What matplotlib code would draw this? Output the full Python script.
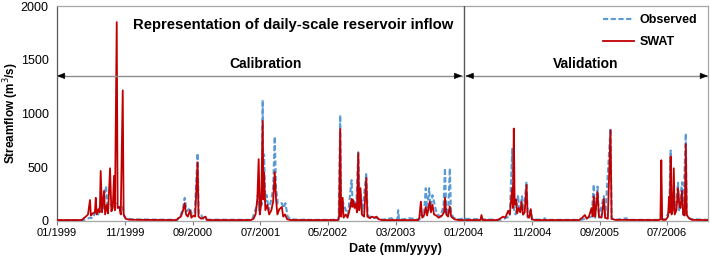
import matplotlib
matplotlib.use("Agg")
import matplotlib.pyplot as plt
import matplotlib.dates as mdates
import pandas as pd

plt.rcParams["font.family"] = ["Liberation Sans", "DejaVu Sans"]

# values, knots of the daily hydrograph (m3/s)
swat_dates = [
    "1999-01-01", "1999-04-23", "1999-04-28", "1999-05-10", "1999-05-20", "1999-05-29", "1999-06-02",
    "1999-06-10", "1999-06-20", "1999-06-24", "1999-06-28", "1999-07-06", "1999-07-12", "1999-07-16",
    "1999-07-22", "1999-07-31", "1999-08-05", "1999-08-12", "1999-08-18", "1999-08-27", "1999-09-02",
    "1999-09-08", "1999-09-14", "1999-09-18", "1999-09-26", "1999-09-30", "1999-10-08", "1999-10-14",
    "1999-10-23", "1999-10-27", "1999-11-05", "1999-11-20", "2000-01-01", "2000-06-20", "2000-06-28",
    "2000-07-10", "2000-07-20", "2000-07-27", "2000-08-02", "2000-08-10", "2000-08-20", "2000-08-26",
    "2000-09-05", "2000-09-12", "2000-09-23", "2000-09-27", "2000-10-10", "2000-10-29", "2000-11-02",
    "2000-11-15", "2001-05-20", "2001-06-01", "2001-06-10", "2001-06-18", "2001-06-24", "2001-06-29",
    "2001-07-05", "2001-07-12", "2001-07-15", "2001-07-18", "2001-07-24", "2001-08-02", "2001-08-10",
    "2001-08-20", "2001-08-28", "2001-09-04", "2001-09-10", "2001-09-16", "2001-09-25", "2001-10-06",
    "2001-10-12", "2001-10-20", "2001-10-30", "2001-11-15", "2002-06-15", "2002-06-20", "2002-06-25",
    "2002-06-29", "2002-07-06", "2002-07-10", "2002-07-20", "2002-07-28", "2002-08-08", "2002-08-15",
    "2002-08-18", "2002-08-22", "2002-08-28", "2002-09-03", "2002-09-08", "2002-09-14", "2002-09-18",
    "2002-09-24", "2002-09-30", "2002-10-10", "2002-10-20", "2002-10-25", "2002-11-05", "2002-11-15",
    "2002-11-25", "2002-12-05", "2002-12-15", "2003-01-01", "2003-06-10", "2003-06-15", "2003-06-22",
    "2003-06-28", "2003-07-08", "2003-07-14", "2003-07-20", "2003-08-01", "2003-08-06", "2003-08-13",
    "2003-08-20", "2003-08-30", "2003-09-10", "2003-09-25", "2003-10-04", "2003-10-08", "2003-10-14",
    "2003-10-22", "2003-10-30", "2003-11-05", "2003-11-20", "2003-12-10", "2004-03-15", "2004-03-20",
    "2004-03-25", "2004-06-01", "2004-06-10", "2004-06-25", "2004-07-05", "2004-07-18", "2004-07-25",
    "2004-08-05", "2004-08-08", "2004-08-12", "2004-08-16", "2004-08-22", "2004-08-27", "2004-09-03",
    "2004-09-10", "2004-09-16", "2004-09-22", "2004-09-30", "2004-10-08", "2004-10-13", "2004-10-20",
    "2004-10-27", "2004-11-01", "2004-11-15", "2005-06-01", "2005-06-15", "2005-06-27", "2005-07-05",
    "2005-07-15", "2005-07-27", "2005-08-01", "2005-08-06", "2005-08-12", "2005-08-23", "2005-08-29",
    "2005-09-10", "2005-09-20", "2005-09-26", "2005-10-08", "2005-10-20", "2005-10-25", "2005-11-10",
    "2006-05-25", "2006-06-01", "2006-06-05", "2006-06-09", "2006-06-25", "2006-07-05", "2006-07-10",
    "2006-07-13", "2006-07-17", "2006-07-21", "2006-07-26", "2006-07-31", "2006-08-04", "2006-08-12",
    "2006-08-19", "2006-08-24", "2006-08-30", "2006-09-06", "2006-09-11", "2006-09-18", "2006-09-23",
    "2006-09-27", "2006-10-05", "2006-10-20", "2006-12-31",
]
swat_flow = [
    8, 8, 20, 40, 60, 195, 50,
    70, 80, 215, 60, 110, 80, 465,
    80, 280, 60, 150, 70, 490, 90,
    120, 420, 100, 1850, 120, 130, 60,
    1215, 60, 20, 12, 10, 8, 25,
    40, 100, 165, 60, 40, 100, 30,
    50, 40, 545, 40, 20, 40, 10,
    8, 8, 20, 60, 200, 575, 60,
    150, 930, 200, 450, 100, 150, 60,
    100, 180, 455, 200, 60, 110, 130,
    40, 60, 15, 8, 8, 40, 855,
    40, 215, 30, 60, 30, 120, 205,
    130, 195, 120, 160, 80, 630, 100,
    305, 60, 40, 400, 40, 25, 40,
    30, 40, 15, 8, 8, 30, 180,
    30, 60, 130, 50, 180, 80, 150,
    60, 50, 30, 50, 80, 215, 60,
    40, 135, 40, 15, 8, 8, 55,
    8, 8, 20, 40, 30, 95, 60,
    305, 120, 860, 150, 200, 70, 120,
    80, 180, 60, 80, 335, 40, 30,
    110, 15, 8, 8, 30, 55, 20,
    40, 120, 40, 230, 40, 270, 40,
    30, 205, 30, 20, 845, 20, 10,
    8, 15, 565, 10, 10, 40, 225,
    80, 600, 60, 100, 490, 60, 100,
    305, 160, 120, 280, 60, 50, 715,
    60, 30, 10, 8,
]

obs_dates = [
    "1999-01-01", "1999-05-01", "1999-05-29", "1999-06-10", "1999-06-24", "1999-07-05", "1999-07-16",
    "1999-07-25", "1999-08-09", "1999-08-15", "1999-08-27", "1999-09-05", "1999-09-14", "1999-09-26",
    "1999-10-05", "1999-10-15", "1999-10-23", "1999-10-30", "1999-11-10", "1999-12-01", "2000-06-25",
    "2000-07-10", "2000-07-20", "2000-07-27", "2000-08-05", "2000-08-20", "2000-08-28", "2000-09-10",
    "2000-09-23", "2000-09-28", "2000-10-10", "2000-10-20", "2000-11-10", "2001-05-25", "2001-06-05",
    "2001-06-15", "2001-06-20", "2001-06-26", "2001-07-02", "2001-07-08", "2001-07-12", "2001-07-15",
    "2001-07-18", "2001-07-24", "2001-07-30", "2001-08-08", "2001-08-20", "2001-08-28", "2001-09-04",
    "2001-09-10", "2001-09-18", "2001-09-28", "2001-10-06", "2001-10-15", "2001-10-22", "2001-11-01",
    "2001-11-15", "2002-01-12", "2002-01-17", "2002-01-22", "2002-06-18", "2002-06-25", "2002-06-29",
    "2002-07-06", "2002-07-20", "2002-07-30", "2002-08-15", "2002-08-20", "2002-08-28", "2002-09-05",
    "2002-09-14", "2002-09-20", "2002-09-24", "2002-10-02", "2002-10-20", "2002-10-26", "2002-11-15",
    "2002-12-10", "2002-12-25", "2003-02-10", "2003-02-20", "2003-03-08", "2003-03-12", "2003-03-16",
    "2003-05-04", "2003-06-15", "2003-06-22", "2003-07-05", "2003-07-14", "2003-07-20", "2003-07-29",
    "2003-08-05", "2003-08-13", "2003-08-20", "2003-08-28", "2003-09-08", "2003-09-20", "2003-10-02",
    "2003-10-08", "2003-10-14", "2003-10-22", "2003-10-30", "2003-11-04", "2003-11-15", "2003-12-10",
    "2003-12-25", "2004-06-15", "2004-07-10", "2004-07-25", "2004-08-05", "2004-08-09", "2004-08-14",
    "2004-08-20", "2004-08-31", "2004-09-06", "2004-09-18", "2004-09-24", "2004-10-08", "2004-10-14",
    "2004-10-27", "2004-11-03", "2004-12-24", "2004-12-29", "2005-01-03", "2005-06-10", "2005-07-27",
    "2005-08-06", "2005-08-12", "2005-08-23", "2005-08-29", "2005-09-20", "2005-09-26", "2005-10-20",
    "2005-10-25", "2005-11-15", "2005-12-31", "2006-01-05", "2006-06-01", "2006-06-05", "2006-06-20",
    "2006-07-10", "2006-07-17", "2006-07-21", "2006-07-31", "2006-08-06", "2006-08-19", "2006-08-24",
    "2006-09-06", "2006-09-11", "2006-09-23", "2006-09-27", "2006-10-10", "2006-11-01", "2006-12-31",
]
obs_flow = [
    8, 8, 30, 25, 90, 60, 170,
    100, 325, 150, 170, 130, 180, 150,
    130, 100, 130, 40, 25, 15, 10,
    60, 120, 215, 90, 120, 60, 80,
    630, 60, 50, 20, 12, 10, 75,
    140, 240, 100, 240, 150, 1125, 250,
    620, 180, 240, 100, 200, 300, 785,
    300, 160, 160, 165, 120, 165, 40,
    15, 10, 20, 10, 10, 985, 60,
    180, 100, 60, 380, 150, 180, 130,
    640, 120, 250, 80, 445, 50, 30,
    25, 10, 25, 10, 10, 100, 10,
    25, 10, 60, 40, 305, 80, 305,
    100, 240, 180, 100, 55, 40, 150,
    490, 80, 60, 490, 80, 30, 15,
    20, 10, 30, 40, 670, 200, 100,
    60, 240, 80, 230, 60, 365, 30,
    100, 15, 10, 25, 10, 10, 40,
    340, 30, 320, 30, 230, 20, 860,
    20, 10, 25, 10, 10, 20, 15,
    80, 655, 60, 150, 80, 355, 100,
    360, 60, 815, 50, 20, 15, 10,
]

x_ticks = ["1999-01-01", "1999-11-01", "2000-09-01", "2001-07-01", "2002-05-01",
           "2003-03-01", "2004-01-01", "2004-11-01", "2005-09-01", "2006-07-01"]
period_split = "2004-01-01"
period_end = "2006-12-31"

swat_t = pd.to_datetime(swat_dates)
obs_t = pd.to_datetime(obs_dates)
split_t = pd.Timestamp(period_split)
start_t = pd.Timestamp(x_ticks[0])
end_t = pd.Timestamp(period_end)

fig = plt.figure(figsize=(7.1, 2.63), dpi=100)
ax = fig.add_axes([0.0803, 0.16, 0.9167, 0.817])

ax.plot(obs_t, obs_flow, color="#5B9BD5", lw=1.5, ls=(0, (2.5, 1.2)), label="Observed", zorder=2)
ax.plot(swat_t, swat_flow, color="#C00000", lw=1.3, label="SWAT", zorder=3)

ax.set_xlim(start_t, end_t)
ax.set_ylim(0, 2000)
ax.set_yticks([0, 500, 1000, 1500, 2000])
ax.set_xticks(pd.to_datetime(x_ticks))
ax.xaxis.set_major_formatter(mdates.DateFormatter("%m/%Y"))
ax.tick_params(axis="y", length=0, labelsize=9, pad=6)
ax.tick_params(axis="x", length=3, color="#808080", labelsize=8, pad=2)

for side in ["top", "right", "bottom"]:
    ax.spines[side].set_color("#a6a6a6")
ax.spines["left"].set_color("#595959")
for sp in ax.spines.values():
    sp.set_linewidth(0.9)

ax.axvline(split_t, color="#595959", lw=1, zorder=4)

# calibration / validation arrows
arrow_y = 1350
gap = pd.Timedelta(days=8)
for a, b in [(start_t, split_t - gap), (split_t + gap, end_t)]:
    ax.plot([a, b], [arrow_y, arrow_y], color="#8c8c8c", lw=1, zorder=4)
    for tip, off in [(a, 6), (b, -6)]:
        ax.annotate("", xy=(tip, arrow_y), xytext=(off, 0), textcoords="offset points",
                    arrowprops=dict(arrowstyle="-|>,head_length=0.5,head_width=0.2",
                                    color="black", lw=0.4, shrinkA=0, shrinkB=0), zorder=5)

ax.text(pd.Timestamp("2001-07-27"), 1460, "Calibration", ha="center", va="center",
        fontsize=10, fontweight="bold")
ax.text(pd.Timestamp("2005-07-01"), 1460, "Validation", ha="center", va="center",
        fontsize=10, fontweight="bold")
ax.text(pd.Timestamp("2001-11-25"), 1820, "Representation of daily-scale reservoir inflow",
        ha="center", va="center", fontsize=10.7, fontweight="bold")

ax.set_ylabel("Streamflow (m$^3$/s)", fontsize=8.5, fontweight="bold")
ax.yaxis.set_label_coords(-0.055, 0.5)
ax.set_xlabel("Date (mm/yyyy)", fontsize=9, fontweight="bold")
ax.xaxis.set_label_coords(0.52, -0.105)

leg = ax.legend(loc="upper left", bbox_to_anchor=(0.839, 0.962), frameon=False,
                prop=dict(size=9, weight="bold"), handlelength=2.5, handletextpad=0.45,
                labelspacing=0.8, borderaxespad=0, borderpad=0)

fig.savefig("out.png", dpi=100)
